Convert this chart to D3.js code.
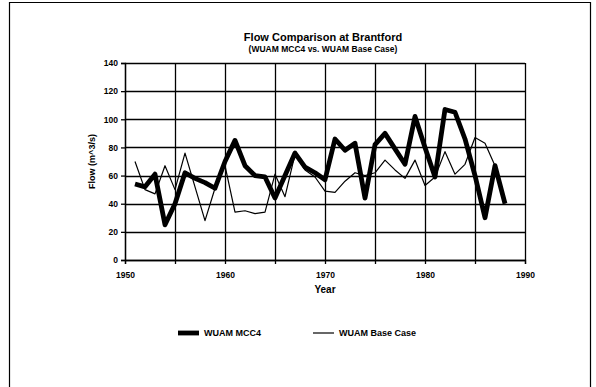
<!DOCTYPE html>
<html><head><meta charset="utf-8">
<script src="https://cdn.jsdelivr.net/npm/d3@7"></script>
<style>body{margin:0;background:#fff}svg{display:block}text{font-family:"Liberation Sans",Arial,sans-serif;fill:#000}</style>
</head><body><svg id="c" width="596" height="387"></svg>
<script>
const years = d3.range(1951, 1989);
const mcc4 = [54,52,61,25,40,62,58,55,51,70,85,67,60,59,44,60,76,66,62,57,86,78,83,44,82,90,79,68,102,80,59,107,105,86,60,30,67,40];
const baseCase = [70,50,47,67,50,76,52,28,51,67,34,35,33,34,61,45,75,64,59,49,48,56,62,60,62,71,64,58,71,53,59,77,61,68,87,83,67,40];
const xTicks = [1950,1960,1970,1980,1990];
const yTicks = [0,20,40,60,80,100,120,140];
const seriesNames = ["WUAM MCC4","WUAM Base Case"];

const svg = d3.select("#c");
// outer frame
svg.append("path").attr("d","M9.5,387V2.5H590.5V387").attr("fill","none").attr("stroke","#000").attr("stroke-width",1.2);

const L=125, R=525, T=63, B=260;
const x = d3.scaleLinear().domain([1950,1990]).range([L,R]);
const y = d3.scaleLinear().domain([0,140]).range([B,T]);
const g = svg.append("g");

// gridlines
g.selectAll(".hg").data(yTicks).join("line").attr("x1",L).attr("x2",R)
 .attr("y1",d=>Math.round(y(d))+0.5).attr("y2",d=>Math.round(y(d))+0.5).attr("stroke","#000").attr("stroke-width",1.3);
g.selectAll(".vg").data(d3.range(1950,1991,5)).join("line").attr("y1",T).attr("y2",B)
 .attr("x1",d=>Math.round(x(d))+0.5).attr("x2",d=>Math.round(x(d))+0.5).attr("stroke","#000").attr("stroke-width",1.3);

// axes
const yAxis = d3.axisLeft(y).tickValues(yTicks).tickSize(4).tickPadding(3);
const ya = g.append("g").attr("transform",`translate(${L},0)`).call(yAxis);
const xAxis = d3.axisBottom(x).tickValues(d3.range(1950,1991,5)).tickSize(4).tickPadding(8)
  .tickFormat(d=> xTicks.includes(d)? String(d):"");
const xa = g.append("g").attr("transform",`translate(0,${B})`).call(xAxis);
[ya,xa].forEach(a=>{a.select(".domain").attr("stroke","#000").attr("stroke-width",1.3);
  a.selectAll(".tick line").attr("stroke","#000").attr("stroke-width",1.3);
  a.selectAll("text").attr("font-size",8.5).attr("font-weight","bold").attr("font-family","Liberation Sans, Arial, sans-serif");});

// lines
const line = d3.line().x((d,i)=>x(years[i])).y(d=>y(d));
g.append("path").datum(baseCase).attr("d",line).attr("fill","none").attr("stroke","#000").attr("stroke-width",1.2).attr("stroke-linejoin","round");
g.append("path").datum(mcc4).attr("d",line).attr("fill","none").attr("stroke","#000").attr("stroke-width",4.8).attr("stroke-linejoin","round");

// titles
svg.append("text").attr("x",323).attr("y",41).attr("text-anchor","middle").attr("font-size",11).attr("font-weight","bold").text("Flow Comparison at Brantford");
svg.append("text").attr("x",323).attr("y",52).attr("text-anchor","middle").attr("font-size",8.5).attr("font-weight","bold").text("(WUAM MCC4 vs. WUAM Base Case)");
svg.append("text").attr("x",325).attr("y",293).attr("text-anchor","middle").attr("font-size",10).attr("font-weight","bold").text("Year");
svg.append("text").attr("transform",`translate(95,${(T+B)/2}) rotate(-90)`).attr("text-anchor","middle").attr("font-size",9).attr("font-weight","bold").text("Flow (m^3/s)");

// legend
const leg = svg.append("g").attr("transform","translate(0,333)");
const items = [{name:seriesNames[0],w:4.8,x0:178},{name:seriesNames[1],w:1.2,x0:313}];
items.forEach(it=>{
  leg.append("line").attr("x1",it.x0).attr("x2",it.x0+21).attr("y1",0).attr("y2",0).attr("stroke","#000").attr("stroke-width",it.w);
  leg.append("text").attr("x",it.x0+26).attr("y",3).attr("font-size",9).attr("font-weight","bold").text(it.name);
});
</script></body></html>
